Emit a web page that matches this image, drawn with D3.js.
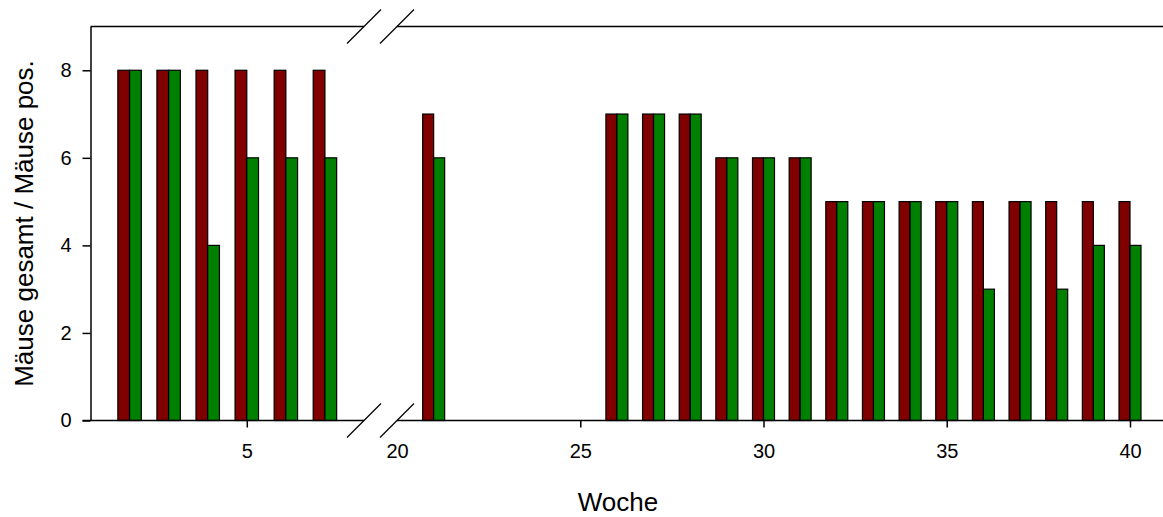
<!DOCTYPE html>
<html>
<head>
<meta charset="utf-8">
<script src="https://cdn.jsdelivr.net/npm/d3@7"></script>
<style>
body { margin: 0; background: #fff; }
text { font-family: "Liberation Sans", Arial, sans-serif; }
</style>
</head>
<body>
<div id="chart"></div>
<script>
// weeks before and after the axis break
var weeksA = [2, 3, 4, 5, 6, 7];
var totalA = [8, 8, 8, 8, 8, 8];
var posA   = [8, 8, 4, 6, 6, 6];

var weeksB = [21, 26, 27, 28, 29, 30, 31, 32, 33, 34, 35, 36, 37, 38, 39, 40];
var totalB = [7, 7, 7, 7, 6, 6, 6, 5, 5, 5, 5, 5, 5, 5, 5, 5];
var posB   = [6, 7, 7, 7, 6, 6, 6, 5, 5, 5, 5, 3, 5, 3, 4, 4];

var yTicks = [0, 2, 4, 6, 8];
var xTicksA = [5];
var xTicksB = [20, 25, 30, 35, 40];

var width = 1163, height = 517;
var plotTop = 26.5, plotBottom = 420.5, plotLeft = 90.5;
var breakL = 364, breakR = 397;

var svg = d3.select("#chart").append("svg")
	.attr("width", width)
	.attr("height", height);

var y = d3.scaleLinear().domain([0, 9]).range([plotBottom, plotTop]);
var xA = d3.scaleLinear().domain([1, 8]).range([plotLeft, breakL]);
var xB = d3.scaleLinear().domain([20, 40]).range([breakR, 1130]);

function drawBars(xs, weeks, total, pos) {
	var bw = (xs(1) - xs(0)) * 0.3;
	var rows = weeks.map(function(w, i){ return {w: w, t: total[i], p: pos[i]}; });
	var g = svg.append("g");
	g.selectAll(".red").data(rows).enter().append("rect")
		.attr("x", function(d){ return xs(d.w) - bw; })
		.attr("y", function(d){ return y(d.t); })
		.attr("width", bw)
		.attr("height", function(d){ return y(0) - y(d.t); })
		.attr("fill", "#800000")
		.attr("stroke", "#000")
		.attr("stroke-width", 1.2);
	g.selectAll(".green").data(rows).enter().append("rect")
		.attr("x", function(d){ return xs(d.w); })
		.attr("y", function(d){ return y(d.p); })
		.attr("width", bw)
		.attr("height", function(d){ return y(0) - y(d.p); })
		.attr("fill", "#008000")
		.attr("stroke", "#000")
		.attr("stroke-width", 1.2);
}
drawBars(xA, weeksA, totalA, posA);
drawBars(xB, weeksB, totalB, posB);

//y axis
var yAxis = svg.append("g")
	.attr("transform", "translate(" + plotLeft + ",0)")
	.call(d3.axisLeft(y).tickValues(yTicks).tickSize(8).tickSizeOuter(0).tickPadding(11));
yAxis.selectAll("text").style("font-size", "20px").attr("fill", "#000");
yAxis.selectAll("line, path").attr("stroke", "#000").attr("stroke-width", 1.5);

//x axes (two segments)
var xAxisA = svg.append("g")
	.attr("transform", "translate(0," + plotBottom + ")")
	.call(d3.axisBottom(xA).tickValues(xTicksA).tickFormat(d3.format("d")).tickSize(7).tickPadding(16));
var xAxisB = svg.append("g")
	.attr("transform", "translate(0," + plotBottom + ")")
	.call(d3.axisBottom(xB).tickValues(xTicksB).tickFormat(d3.format("d")).tickSize(7).tickPadding(16));
[xAxisA, xAxisB].forEach(function(ax){
	ax.select(".domain").remove();
	ax.selectAll("text").style("font-size", "20px").attr("fill", "#000");
	ax.selectAll("line").attr("stroke", "#000").attr("stroke-width", 1.5);
});
xAxisB.selectAll(".tick").filter(function(d){ return d === 20; }).select("line").remove();

// axis lines with break gap, bottom and top
[plotBottom, plotTop].forEach(function(yy){
	var x0 = yy === plotBottom ? plotLeft - 8 : plotLeft;
	svg.append("line").attr("x1", x0).attr("x2", breakL).attr("y1", yy).attr("y2", yy)
		.attr("stroke", "#000").attr("stroke-width", 1.5);
	svg.append("line").attr("x1", breakR).attr("x2", width).attr("y1", yy).attr("y2", yy)
		.attr("stroke", "#000").attr("stroke-width", 1.5);
	[breakL, breakR].forEach(function(bx){
		svg.append("line")
			.attr("x1", bx - 17).attr("y1", yy + 17)
			.attr("x2", bx + 17).attr("y2", yy - 17)
			.attr("stroke", "#000").attr("stroke-width", 1.3);
	});
});

svg.append("text")
	.attr("x", 618)
	.attr("y", 511)
	.attr("text-anchor", "middle")
	.style("font-size", "26px")
	.text("Woche");

svg.append("text")
	.attr("transform", "translate(33," + ((plotTop + plotBottom) / 2) + ") rotate(-90)")
	.attr("text-anchor", "middle")
	.style("font-size", "26px")
	.text("Mäuse gesamt / Mäuse pos.");
</script>
</body>
</html>
